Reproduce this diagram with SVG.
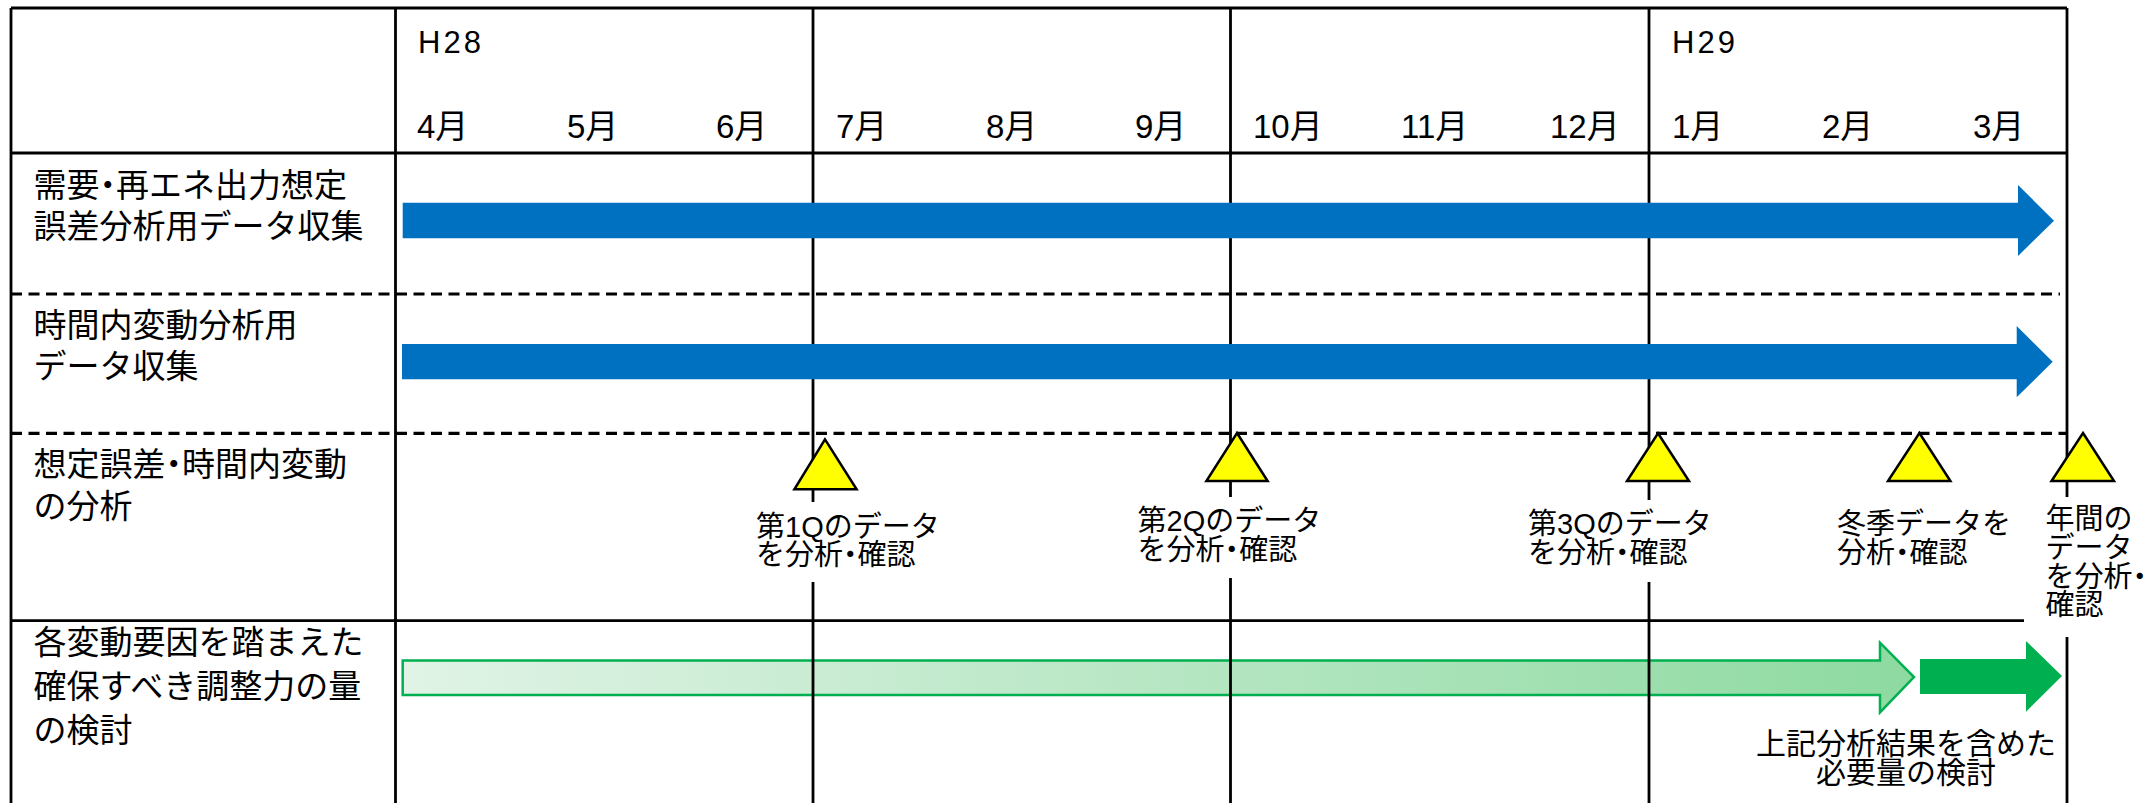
<svg xmlns="http://www.w3.org/2000/svg" width="2149" height="803" viewBox="0 0 2149 803">
<defs>
<style>
.t{font-family:"Liberation Sans","Noto Sans CJK JP",sans-serif;fill:#000}
.lab{font-size:33px}
.mon{font-size:33px}
.yr{font-size:31px;letter-spacing:3px}
.ms{font-size:29px}
.ln{stroke:#000;stroke-width:2.8;fill:none}
.dash{stroke:#000;stroke-width:3.2;stroke-dasharray:11 6.5;fill:none}
.blue{fill:#0070c0}
.tri{fill:#ffff00;stroke:#000;stroke-width:2.5;stroke-linejoin:miter}
.bg{fill:#fff}
.h{font-feature-settings:"halt"}
</style>
<linearGradient id="gg" x1="0" y1="0" x2="1" y2="0">
<stop offset="0" stop-color="#e0f3e6"/>
<stop offset="1" stop-color="#8edaa1"/>
</linearGradient>
</defs>
<rect width="2149" height="803" fill="#fff"/>
<g id="connectors">
<path id="bar-green-light" d="M402.7 660.5 H1880 V642.7 L1914 677 L1880 712.3 V695 H402.7 Z" fill="url(#gg)" stroke="#00b050" stroke-width="2.5"/>
</g>
<g id="grid">
<path class="ln" d="M11 8 H2067 M11 153 H2067 M11 620.7 H2067"/>
<path class="ln" d="M11 8 V803 M395.5 8 V803 M813 8 V803 M1230.5 8 V803 M1649 8 V803 M2067 8 V803"/>
<path class="dash" d="M11 294 H2060 M11 433.3 H2067"/>
</g>
<g id="bars">
<path id="bar-blue-1" class="blue" d="M402.7 202.7 H2018 V185 L2054 220.7 L2018 256 V238.3 H402.7 Z"/>
<path id="bar-blue-2" class="blue" d="M402 344 H2016.7 V326 L2052.7 361.7 L2016.7 397.3 V379.3 H402 Z"/>
<path id="bar-green-dark" d="M1920 659 H2026 V641 L2062 676 L2026 711.7 V694 H1920 Z" fill="#00b050"/>
</g>
<g id="header">
<text class="t yr" x="418" y="53">H28</text>
<text class="t yr" x="1672" y="53">H29</text>
<text class="t mon" x="417" y="138">4月</text>
<text class="t mon" x="567" y="138">5月</text>
<text class="t mon" x="716" y="138">6月</text>
<text class="t mon" x="836" y="138">7月</text>
<text class="t mon" x="986" y="138">8月</text>
<text class="t mon" x="1135" y="138">9月</text>
<text class="t mon" x="1253" y="138">10月</text>
<text class="t mon" x="1401" y="138">11月</text>
<text class="t mon" x="1550" y="138">12月</text>
<text class="t mon" x="1672" y="138">1月</text>
<text class="t mon" x="1822" y="138">2月</text>
<text class="t mon" x="1973" y="138">3月</text>
</g>
<g id="row1">
<text class="t lab" x="33.5" y="196.5">需要<tspan class="h">・</tspan>再エネ出力想定</text>
<text class="t lab" x="33.5" y="238">誤差分析用データ収集</text>
</g>
<g id="row2">
<text class="t lab" x="33.5" y="337">時間内変動分析用</text>
<text class="t lab" x="33.5" y="378">データ収集</text>
</g>
<g id="row3">
<text class="t lab" x="33.5" y="476">想定誤差<tspan class="h">・</tspan>時間内変動</text>
<text class="t lab" x="33.5" y="517.5">の分析</text>
</g>
<g id="row4">
<text class="t lab" x="33.5" y="654">各変動要因を踏まえた</text>
<text class="t lab" x="33.5" y="698">確保すべき調整力の量</text>
<text class="t lab" x="33.5" y="742">の検討</text>
</g>
<g id="m1">
<rect class="bg" x="750" y="502" width="200" height="80"/>
<polygon class="tri" points="825,439.3 856.6,489.3 794.4,489.3"/>
<text class="t ms" x="756" y="537">第1Qのデータ</text>
<text class="t ms" x="756" y="565">を分析<tspan class="h">・</tspan>確認</text>
</g>
<g id="m2">
<rect class="bg" x="1130" y="497" width="200" height="81"/>
<polygon class="tri" points="1237,433 1267.6,481 1206.4,481"/>
<text class="t ms" x="1137.6" y="531">第2Qのデータ</text>
<text class="t ms" x="1137.6" y="560">を分析<tspan class="h">・</tspan>確認</text>
</g>
<g id="m3">
<rect class="bg" x="1522" y="500" width="200" height="82"/>
<polygon class="tri" points="1658,433.3 1689,481 1627,481"/>
<text class="t ms" x="1528" y="534">第3Qのデータ</text>
<text class="t ms" x="1528" y="563">を分析<tspan class="h">・</tspan>確認</text>
</g>
<g id="m4">
<polygon class="tri" points="1919.4,433 1950.4,481 1888,481"/>
<text class="t ms" x="1837" y="534">冬季データを</text>
<text class="t ms" x="1837" y="563">分析<tspan class="h">・</tspan>確認</text>
</g>
<g id="m5">
<rect class="bg" x="2024" y="497" width="125" height="140"/>
<polygon class="tri" points="2083,433 2114,481 2051.5,481"/>
<text class="t ms" x="2045.6" y="529">年間の</text>
<text class="t ms" x="2045.6" y="558">データ</text>
<text class="t ms" x="2045.6" y="587">を分析<tspan class="h">・</tspan></text>
<text class="t ms" x="2045.6" y="615">確認</text>
</g>
<g id="note">
<text class="t" style="font-size:30px" text-anchor="middle" x="1906" y="754">上記分析結果を含めた</text>
<text class="t" style="font-size:30px" text-anchor="middle" x="1906" y="783">必要量の検討</text>
</g>
</svg>
